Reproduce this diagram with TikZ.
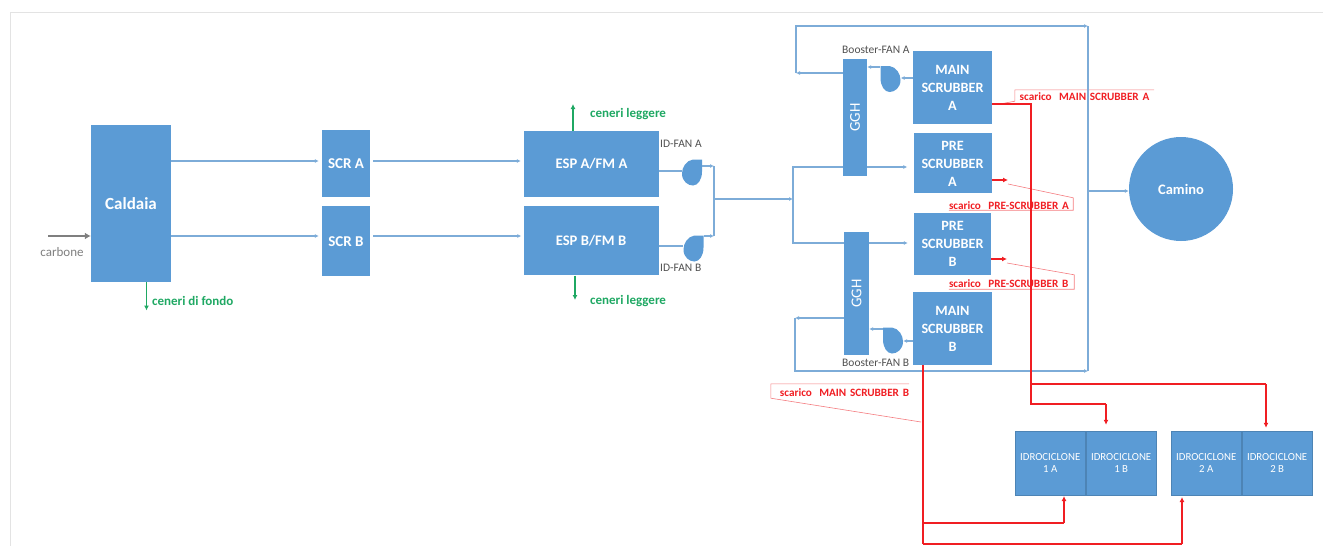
\documentclass[tikz,border=0pt]{standalone}
\usepackage{fontspec}
\setmainfont{Carlito}
\usetikzlibrary{positioning,arrows.meta}
\definecolor{impBlue}{HTML}{5B9BD5}
\definecolor{impLine}{HTML}{7DACD8}
\definecolor{impRed}{HTML}{F01E23}
\definecolor{impPink}{HTML}{F47C80}
\definecolor{impGreen}{HTML}{1FA863}
\definecolor{impGray}{HTML}{7F7F7F}
\definecolor{impDark}{HTML}{505050}
\newcommand{\fan}[3]{%
  \node[fanbox] (#1) at (#2) {};
  \fill[impBlue,shift={(#2)},xscale=#3] (10,-13) -- (1,-13) .. controls (-6,-12) and (-10,-5) .. (-10,1)
    .. controls (-10,9) and (-4,13) .. (1,13) .. controls (6,13) and (10,7) .. (10,-1) -- cycle;}
\begin{document}
\begin{tikzpicture}[x=1pt,y=-1pt,
        box/.style={fill=impBlue,text=white,inner sep=0pt,align=center,font=\fontsize{14.6}{18}\selectfont\bfseries},
        size/.style 2 args={minimum width=#1pt,minimum height=#2pt},
        scrub/.style={font=\fontsize{14.2}{18}\selectfont\bfseries},
        idro/.style={box,draw=impBlue!85!black,line width=.4pt,size={70.5}{64},font=\fontsize{10.8}{12.5}\selectfont},
        fanbox/.style={inner sep=0pt,minimum width=20pt,minimum height=26pt},
        flow/.style={impLine,line width=1.4pt},
        flowarr/.style={flow,-{Latex[length=4pt,width=4pt]}},
        drain/.style={impRed,line width=1.5pt},
        drainarr/.style={drain,-{Latex[length=5pt,width=5pt]}},
        ash/.style={impGreen,line width=1.3pt,-{Latex[length=5pt,width=5pt]}},
        ashlabel/.style={text=impGreen,inner sep=0pt,font=\fontsize{13}{15}\selectfont\bfseries},
        fanlabel/.style={text=impDark,inner sep=0pt,font=\fontsize{11.5}{13}\selectfont},
        scarico/.style={text=impRed,inner sep=0pt,text height=10.5pt,text depth=0pt,font=\fontsize{11.2}{13}\selectfont\bfseries},
        callout/.style={impPink,line width=.6pt}]
  \useasboundingbox (0,0) rectangle (1323,546);
  \draw[gray!22,line width=.7pt] (10,546) -- (10,12) -- (1323,12);

  \node[box,size={80}{157},font=\fontsize{17}{18}\selectfont\bfseries] (caldaia) at (131,203.5) {Caldaia};
  \node[box,size={48}{67},font=\fontsize{15}{16}\selectfont\bfseries] (scra) at (346,163.5) {SCR A};
  \node[box,size={48}{70},font=\fontsize{15}{16}\selectfont\bfseries,below=9pt of scra] (scrb) {SCR B};
  \node[box,size={135}{66}] (espa) at (591.5,164) {ESP A/FM A};
  \node[box,size={135}{69},below=9pt of espa,xshift=-.5pt] (espb) {ESP B/FM B};
  \node[box,size={79}{73},scrub] (maina) at (952.5,87.5) {MAIN\\SCRUBBER\\A};
  \node[box,size={78}{60},scrub,below=9pt of maina] (prea) {PRE\\SCRUBBER\\A};
  \node[box,size={77}{62},scrub,below=19pt of prea] (preb) {PRE\\SCRUBBER\\B};
  \node[box,size={79}{73},scrub,below=17pt of preb] (mainb) {MAIN\\SCRUBBER\\B};
  \node[box,size={24}{117},font=\fontsize{15}{16}\selectfont] (ggha) at (855,117.5) {\rotatebox{90}{GGH}};
  \node[box,size={25}{123},font=\fontsize{15}{16}\selectfont] (gghb) at (856.5,293.5) {\rotatebox{90}{GGH}};
  \node[box,circle,minimum size=104pt,font=\fontsize{14.5}{16}\selectfont\bfseries] (camino) at (1181,189) {Camino};
  \node[idro] (idroa) at (1050.25,463) {IDROCICLONE\\1 A};
  \node[idro,right=0pt of idroa] (idrob) {IDROCICLONE\\1 B};
  \node[idro] (idroc) at (1206.25,463) {IDROCICLONE\\2 A};
  \node[idro,right=0pt of idroc] (idrod) {IDROCICLONE\\2 B};

  \fan{fanida}{692,172.5}{1}
  \fan{fanidb}{693.5,248.5}{1}
  \fan{boosta}{890.5,79}{-1}
  \fan{boostb}{893,340.5}{-1}

  \node[text=impGray,inner sep=0pt,font=\fontsize{13}{15}\selectfont] (carbone) at (62,252) {carbone};
  \node[ashlabel,anchor=west] (cenfondo) at (152,301) {ceneri di fondo};
  \node[ashlabel,anchor=west] (cenlega) at (590,114) {ceneri leggere};
  \node[ashlabel,anchor=west] (cenlegb) at (590,301) {ceneri leggere};
  \node[fanlabel,anchor=west] (lblida) at (660,144) {ID-FAN A};
  \node[fanlabel,anchor=west] (lblidb) at (660,268) {ID-FAN B};
  \node[fanlabel,anchor=west] (lblboosta) at (842,50) {Booster-FAN A};
  \node[fanlabel,anchor=west] (lblboostb) at (842,362.5) {Booster-FAN B};

  \node[scarico,size={139}{11},text width=135pt,align=center] (scmaina) at (1084.5,95.5) {scarico\ \ MAIN SCRUBBER A};
  \node[scarico,size={124}{12},text width=124pt,align=left] (scprea) at (1011,204) {scarico\ \ PRE-SCRUBBER A};
  \node[scarico,size={125}{14},text width=125pt,align=left] (scpreb) at (1011.5,282) {scarico\ \ PRE-SCRUBBER B};
  \node[scarico,size={138}{14},text width=138pt,align=right] (scmainb) at (840,391) {scarico\ \ MAIN SCRUBBER B};

  \coordinate (tailmaina) at (1000,104);
  \coordinate (tailprea) at (1008,184);
  \coordinate (tailpreb) at (1007,263);
  \coordinate (tailmainb) at (921,422);
  \draw[callout] (scmaina.north east) -- (scmaina.north west) -- (scmaina.south west) -- (tailmaina);
  \draw[callout] (scprea.south west) -- (scprea.south east) -- (scprea.north east) -- (tailprea);
  \draw[callout] (scpreb.south west) -- (scpreb.south east) -- (scpreb.north east) -- (tailpreb);
  \draw[callout] (scmainb.north east) -- (scmainb.north west) -- (scmainb.south west) -- (tailmainb);

  % fumi
  \coordinate (mixt) at (714,166);
  \coordinate (mixb) at (714,236);
  \coordinate (mix) at (714,199);
  \coordinate (split) at (793,199);
  \coordinate (splitt) at (793,167);
  \coordinate (splitb) at (793,243);
  \coordinate (reta) at (796,73);
  \coordinate (topa) at (796,26);
  \coordinate (topr) at (1088,26);
  \coordinate (botr) at (1088,371);
  \coordinate (botl) at (795,371);
  \coordinate (retb) at (795,318);
  \coordinate (stack) at (1088,191);
  \draw[flowarr,shorten >=3pt] (caldaia.east |- 0,161) -- (scra.west |- 0,161);
  \draw[flowarr,shorten >=3pt] (caldaia.east |- 0,236) -- (scrb.west |- 0,236);
  \draw[flowarr,shorten >=3pt,shorten <=3pt] (scra.east |- 0,161) -- (espa.west |- 0,161);
  \draw[flowarr,shorten >=2pt,shorten <=3pt] (scrb.east |- 0,236) -- (espb.west |- 0,236);
  \draw[flow] (espa.east |- 0,171) -- (fanida.west |- 0,171);
  \draw[flow] (espb.east |- 0,246) -- (fanidb.west |- 0,246);
  \draw[flowarr] (fanida.east |- mixt) -- (mixt);
  \draw[flowarr] (fanidb.east |- mixb) -- (mixb);
  \draw[flow] (mixt) -- (mixb);
  \draw[flowarr] (mix) -- (split);
  \draw[flow] (ggha.west |- splitt) -- (splitt) -- (splitb) -- (gghb.west |- splitb);
  \draw[flowarr,shorten >=6pt] (ggha.east |- splitt) -- (prea.west |- splitt);
  \draw[flowarr,shorten >=6pt] (gghb.east |- splitb) -- (preb.west |- splitb);
  \draw[flowarr] (maina.west |- 0,78) -- (boosta.east |- 0,78);
  \draw[flowarr] (boosta.west |- 0,67) -- (ggha.east |- 0,67);
  \draw[flowarr] (ggha.west |- reta) -- (reta);
  \draw[flowarr] (reta) -- (topa) -- (topr);
  \draw[flow] (topr) -- (botr);
  \draw[flowarr] (mainb.west |- 0,341) -- (boostb.east |- 0,341);
  \draw[flowarr] (boostb.west |- 0,329) -- (gghb.east |- 0,329);
  \draw[flowarr] (gghb.west |- retb) -- (retb);
  \draw[flowarr] (retb) -- (botl) -- (botr);
  \draw[flowarr] (stack) -- (stack -| camino.west);

  % carbone e ceneri
  \coordinate (coal) at (48,236);
  \draw[impGray,line width=2pt,-{Latex[length=6pt,width=7pt]}] (coal) -- (coal -| caldaia.west);
  \coordinate (ashf) at (146.5,310.5);
  \coordinate (asha) at (573,104);
  \coordinate (ashb) at (575,300);
  \draw[ash] (ashf |- caldaia.south) -- (ashf);
  \draw[ash] (asha |- espa.north) -- (asha);
  \draw[ash] (ashb |- espb.south) -- (ashb);

  % scarichi
  \coordinate (dropa) at (1031,104);
  \coordinate (hooka) at (1106,404);
  \coordinate (hookb) at (1266,384);
  \coordinate (dropb) at (923,523);
  \coordinate (dropc) at (923,544);
  \draw[drain] (maina.east |- dropa) -- (dropa) -- (dropa |- hooka) -- (hooka);
  \draw[drainarr,shorten >=6pt] (hooka) -- (hooka |- idrob.north);
  \draw[drain] (dropa |- hookb) -- (hookb);
  \draw[drainarr,shorten >=3pt] (hookb) -- (hookb |- idrod.north);
  \draw[drain] (mainb.south -| dropb) -- (dropc);
  \draw[drain] (dropb) -- (1064,523);
  \draw[drainarr,shorten >=1pt] (1064,523) -- (1064,495);
  \draw[drain] (dropc) -- (1182,544);
  \draw[drainarr,shorten >=2pt] (1182,544) -- (1182,495);
  \draw[drainarr] (prea.east |- tailprea) ++(0,-4) -- (1008,180);
  \draw[drainarr] (preb.east |- tailpreb) ++(0,-4) -- (1007,259);
\end{tikzpicture}
\end{document}
